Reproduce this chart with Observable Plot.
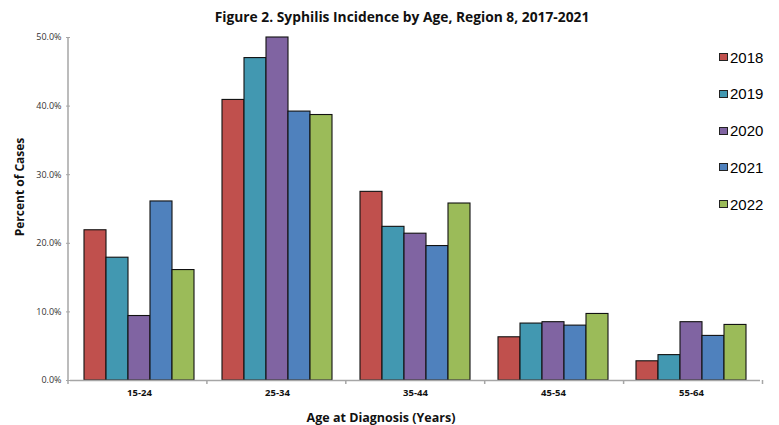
<!DOCTYPE html>
<html><head><meta charset="utf-8">
<script src="https://cdn.jsdelivr.net/npm/d3@7"></script>
<script src="https://cdn.jsdelivr.net/npm/@observablehq/plot@0.6"></script>
<style>
body{margin:0;background:#fff;}
#wrap{position:relative;width:779px;height:425px;font-family:"Open Sans",sans-serif;color:#111;}
.lbl{position:absolute;white-space:nowrap;font-weight:bold;transform-origin:center center;}
#legend{position:absolute;left:719px;top:0;font-family:"Liberation Sans",Arial,sans-serif;font-size:15px;color:#000;}
.item{position:absolute;left:0;display:flex;align-items:center;white-space:nowrap;}
.sw{width:7px;height:6px;border:1px solid #222;margin-right:2px;}
</style></head>
<body><div id="wrap"></div>
<script>
const ageGroups = ["15-24", "25-34", "35-44", "45-54", "55-64"];
const years = ["2018", "2019", "2020", "2021", "2022"];
const colors = ["#C0504D", "#4298B1", "#8064A2", "#4F81BD", "#9BBB59"];
const v2018 = [21.9, 40.9, 27.5, 6.3, 2.8];
const v2019 = [17.9, 47.0, 22.4, 8.3, 3.7];
const v2020 = [9.4, 50.0, 21.4, 8.5, 8.5];
const v2021 = [26.1, 39.2, 19.6, 8.0, 6.5];
const v2022 = [16.1, 38.7, 25.8, 9.7, 8.1];
const yTicks = [0, 10, 20, 30, 40, 50];
const titleText = "Figure 2. Syphilis Incidence by Age, Region 8, 2017-2021";
const yTitle = "Percent of Cases";
const xTitle = "Age at Diagnosis (Years)";

const series = [v2018, v2019, v2020, v2021, v2022];
const data = years.flatMap((yr, i) => ageGroups.map((a, j) => ({age: a, year: yr, value: series[i][j]})));

const W = 779, H = 425, mL = 68, mR = 16.5, mT = 37, mB = 45;

const plot = Plot.plot({
  width: W, height: H,
  marginTop: mT, marginBottom: mB, marginLeft: mL, marginRight: mR,
  style: {fontFamily: "'Open Sans', sans-serif", fontSize: "9px", color: "#222", background: "transparent"},
  fx: {domain: ageGroups, paddingInner: 0, paddingOuter: 0, label: null},
  x: {domain: years, paddingInner: 0, paddingOuter: 0.52, axis: null},
  y: {domain: [0, 50], label: null},
  color: {domain: years, range: colors},
  marks: [
    Plot.barY(data, {fx: "age", x: "year", y: "value", fill: "year", stroke: "#111", strokeWidth: 1.1}),
    Plot.ruleY([0], {stroke: "#a6a6a6", strokeWidth: 1.5}),
    Plot.axisY({ticks: yTicks, tickFormat: d => d.toFixed(1) + "%", tickSize: 4, tickPadding: 5, stroke: "#a6a6a6", fill: "#333", label: null}),
    Plot.axisFx({anchor: "bottom", tickSize: 0, tickPadding: 9, fontWeight: "bold", fontSize: 9.5, fill: "#111", label: null})
  ]
});

const wrap = document.getElementById("wrap");
plot.style.position = "absolute";
plot.style.left = "0px";
plot.style.top = "0px";
wrap.appendChild(plot);

// axis lines and category boundary ticks (Excel style)
const svg = d3.select(plot.tagName.toLowerCase() === "svg" ? plot : plot.querySelector("svg"));
const fxs = plot.scale("fx");
const ys = plot.scale("y");
const [r0, r1] = fxs.range;
const yBase = ys.range[0], yTop = ys.range[1];
const g = svg.append("g").attr("stroke", "#a6a6a6").attr("stroke-width", 1.5);
g.append("line").attr("x1", r0).attr("x2", r0).attr("y1", yTop).attr("y2", yBase + 1);
for (let i = 0; i <= ageGroups.length; i++) {
  const x = r0 + i * (r1 - r0) / ageGroups.length;
  g.append("line").attr("x1", x).attr("x2", x).attr("y1", yBase).attr("y2", yBase + 4);
}

function addLabel(text, cx, cy, size, extra) {
  const d = document.createElement("div");
  d.className = "lbl";
  d.textContent = text;
  d.style.fontSize = size + "px";
  d.style.left = cx + "px";
  d.style.top = cy + "px";
  d.style.transform = "translate(-50%,-50%) " + (extra || "");
  wrap.appendChild(d);
}
addLabel(titleText, 402, 16, 13.8, "");
addLabel(xTitle, 381, 417, 12.5, "");
addLabel(yTitle, 19, 187, 12, "rotate(-90deg)");

const leg = document.createElement("div");
leg.id = "legend";
years.forEach((yr, i) => {
  const it = document.createElement("div");
  it.className = "item";
  it.style.top = (57 + i * 36.8 - 9) + "px";
  it.style.height = "18px";
  const sw = document.createElement("div");
  sw.className = "sw";
  sw.style.background = colors[i];
  const t = document.createElement("span");
  t.textContent = yr;
  it.appendChild(sw); it.appendChild(t);
  leg.appendChild(it);
});
wrap.appendChild(leg);
</script>
</body></html>
